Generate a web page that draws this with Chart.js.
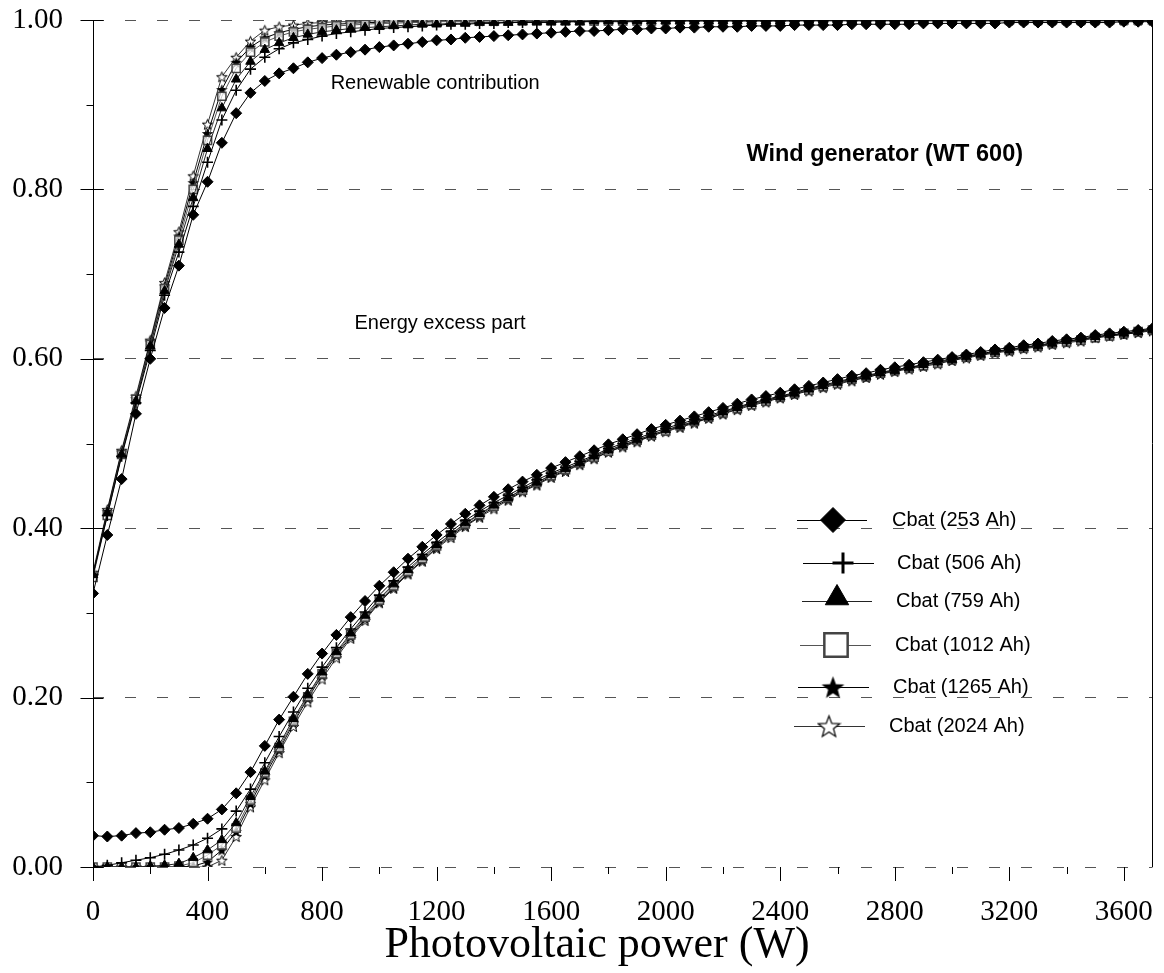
<!DOCTYPE html>
<html><head><meta charset="utf-8">
<script src="https://cdn.jsdelivr.net/npm/chart.js@4.4.1/dist/chart.umd.min.js"></script>
<style>html,body{margin:0;padding:0;background:#fff}#wrap{width:1164px;height:973px;position:relative}</style>
</head><body><div id="wrap"><canvas id="c"></canvas></div>
<script>
// ---------- DATA ----------
const pvPower = [0,50,100,150,200,250,300,350,400,450,500,550,600,650,700,750,800,850,900,950,1000,1050,1100,1150,1200,1250,1300,1350,1400,1450,1500,1550,1600,1650,1700,1750,1800,1850,1900,1950,2000,2050,2100,2150,2200,2250,2300,2350,2400,2450,2500,2550,2600,2650,2700,2750,2800,2850,2900,2950,3000,3050,3100,3150,3200,3250,3300,3350,3400,3450,3500,3550,3600,3650,3700];
const xMajorTicks = [0,400,800,1200,1600,2000,2400,2800,3200,3600];
const xMinorTicks = [200,600,1000,1400,1800,2200,2600,3000,3400];
const yMajorTicks = [0,0.2,0.4,0.6,0.8,1.0];
const yMinorTicks = [0.1,0.3,0.5,0.7,0.9];
const seriesNames = ["Cbat (253 Ah)","Cbat (506 Ah)","Cbat (759 Ah)","Cbat (1012 Ah)","Cbat (1265 Ah)","Cbat (2024 Ah)"];

// Renewable contribution
const renew253 = [0.323,0.392,0.458,0.535,0.600,0.660,0.710,0.770,0.809,0.855,
 0.890,0.914,0.928,0.937,0.943,0.950,0.955,0.959,0.962,0.965,
 0.968,0.970,0.972,0.974,0.976,0.977,0.979,0.980,0.981,0.982,
 0.983,0.984,0.985,0.986,0.987,0.987,0.988,0.989,0.989,0.990,
 0.990,0.991,0.991,0.992,0.992,0.992,0.993,0.993,0.993,0.994,
 0.994,0.994,0.994,0.995,0.995,0.995,0.995,0.995,0.996,0.996,
 0.996,0.996,0.996,0.996,0.997,0.997,0.997,0.997,0.997,0.997,
 0.997,0.997,0.998,0.998,0.998];
const renew506 = [0.345,0.415,0.485,0.548,0.610,0.675,0.726,0.780,0.832,0.882,
 0.917,0.942,0.956,0.966,0.973,0.977,0.981,0.984,0.986,0.988,
 0.990,0.991,0.992,0.993,0.994,0.995,0.995,0.996,0.996,0.997,
 0.997,0.997,0.997,0.998,0.998,0.998,0.998,0.998,0.998,0.999,
 0.999,0.999,0.999,0.999,0.999,0.999,0.999,0.999,0.999,0.999,
 0.999,0.999,0.999,0.999,0.999,0.999,0.999,0.999,0.999,0.999,
 0.999,0.999,0.999,0.999,0.999,0.999,0.999,0.999,0.999,0.999,
 0.999,0.999,0.999,0.999,0.999];
const renew759 = [0.345,0.418,0.487,0.550,0.615,0.680,0.735,0.790,0.848,0.896,
 0.930,0.951,0.965,0.973,0.979,0.983,0.986,0.988,0.990,0.991,
 0.992,0.993,0.994,0.995,0.995,0.996,0.996,0.997,0.997,0.997,
 0.998,0.998,0.998,0.998,0.998,0.999,0.999,0.999,0.999,0.999,
 0.999,0.999,0.999,0.999,0.999,0.999,0.999,0.999,0.999,0.999,
 1.000,1.000,1.000,1.000,1.000,1.000,1.000,1.000,1.000,1.000,
 1.000,1.000,1.000,1.000,1.000,1.000,1.000,1.000,1.000,1.000,
 1.000,1.000,1.000,1.000,1.000];
const renew1012 = [0.342,0.415,0.487,0.552,0.617,0.683,0.740,0.800,0.858,0.910,
 0.943,0.962,0.974,0.981,0.986,0.989,0.991,0.993,0.994,0.995,
 0.996,0.996,0.997,0.997,0.998,0.998,0.998,0.999,0.999,0.999,
 0.999,0.999,0.999,0.999,0.999,0.999,0.999,0.999,0.999,0.999,
 1.000,1.000,1.000,1.000,1.000,1.000,1.000,1.000,1.000,1.000,
 1.000,1.000,1.000,1.000,1.000,1.000,1.000,1.000,1.000,1.000,
 1.000,1.000,1.000,1.000,1.000,1.000,1.000,1.000,1.000,1.000,
 1.000,1.000,1.000,1.000,1.000];
const renew1265 = [0.345,0.420,0.490,0.553,0.620,0.686,0.745,0.808,0.866,0.918,
 0.950,0.968,0.979,0.985,0.989,0.992,0.994,0.995,0.996,0.997,
 0.997,0.998,0.998,0.998,0.999,0.999,0.999,0.999,0.999,1.000,
 1.000,1.000,1.000,1.000,1.000,1.000,1.000,1.000,1.000,1.000,
 1.000,1.000,1.000,1.000,1.000,1.000,1.000,1.000,1.000,1.000,
 1.000,1.000,1.000,1.000,1.000,1.000,1.000,1.000,1.000,1.000,
 1.000,1.000,1.000,1.000,1.000,1.000,1.000,1.000,1.000,1.000,
 1.000,1.000,1.000,1.000,1.000];
const renew2024 = [0.348,0.422,0.492,0.556,0.622,0.690,0.750,0.816,0.877,0.933,
 0.956,0.975,0.988,0.992,0.994,0.996,0.997,0.998,0.998,0.999,
 0.999,0.999,1.000,1.000,1.000,1.000,1.000,1.000,1.000,1.000,
 1.000,1.000,1.000,1.000,1.000,1.000,1.000,1.000,1.000,1.000,
 1.000,1.000,1.000,1.000,1.000,1.000,1.000,1.000,1.000,1.000,
 1.000,1.000,1.000,1.000,1.000,1.000,1.000,1.000,1.000,1.000,
 1.000,1.000,1.000,1.000,1.000,1.000,1.000,1.000,1.000,1.000,
 1.000,1.000,1.000,1.000,1.000];

// Energy excess part
const excess253 = [0.037,0.036,0.037,0.040,0.041,0.044,0.046,0.051,0.057,0.068,
 0.087,0.112,0.143,0.174,0.201,0.228,0.252,0.274,0.295,0.314,
 0.332,0.348,0.364,0.378,0.392,0.405,0.417,0.427,0.437,0.446,
 0.455,0.463,0.471,0.478,0.485,0.492,0.499,0.505,0.511,0.517,
 0.522,0.527,0.532,0.537,0.542,0.547,0.552,0.556,0.560,0.564,
 0.568,0.572,0.576,0.580,0.583,0.587,0.590,0.593,0.596,0.599,
 0.602,0.605,0.608,0.611,0.613,0.616,0.618,0.621,0.623,0.625,
 0.628,0.630,0.632,0.634,0.636];
const excess506 = [0.000,0.002,0.005,0.008,0.011,0.015,0.020,0.026,0.034,0.045,
 0.066,0.092,0.123,0.154,0.183,0.211,0.236,0.259,0.281,0.301,
 0.321,0.338,0.354,0.369,0.383,0.396,0.409,0.420,0.430,0.439,
 0.448,0.457,0.465,0.472,0.479,0.486,0.494,0.500,0.506,0.512,
 0.518,0.523,0.528,0.533,0.538,0.543,0.548,0.552,0.556,0.560,
 0.565,0.569,0.573,0.577,0.580,0.584,0.587,0.590,0.593,0.597,
 0.600,0.603,0.606,0.609,0.611,0.614,0.616,0.619,0.621,0.623,
 0.626,0.628,0.630,0.633,0.635];
const excess759 = [0.000,0.000,0.000,0.000,0.001,0.002,0.004,0.011,0.020,0.032,
 0.052,0.083,0.113,0.144,0.175,0.203,0.230,0.254,0.276,0.297,
 0.317,0.334,0.351,0.366,0.380,0.393,0.406,0.417,0.427,0.436,
 0.446,0.454,0.463,0.470,0.477,0.485,0.492,0.498,0.504,0.510,
 0.516,0.521,0.526,0.531,0.537,0.542,0.547,0.551,0.555,0.559,
 0.564,0.568,0.572,0.576,0.579,0.583,0.586,0.589,0.593,0.596,
 0.599,0.602,0.605,0.608,0.610,0.613,0.615,0.618,0.621,0.623,
 0.626,0.628,0.630,0.632,0.634];
const excess1012 = [0.000,0.000,0.000,0.000,0.000,0.000,0.001,0.005,0.014,0.026,
 0.046,0.079,0.111,0.141,0.172,0.201,0.228,0.252,0.274,0.295,
 0.315,0.332,0.349,0.364,0.379,0.392,0.405,0.416,0.426,0.436,
 0.445,0.454,0.462,0.469,0.477,0.484,0.491,0.498,0.504,0.510,
 0.515,0.521,0.526,0.531,0.536,0.541,0.546,0.550,0.555,0.559,
 0.563,0.567,0.571,0.576,0.579,0.583,0.586,0.589,0.592,0.595,
 0.599,0.602,0.605,0.608,0.610,0.613,0.615,0.618,0.620,0.622,
 0.625,0.627,0.630,0.632,0.634];
const excess1265 = [0.000,0.000,0.000,0.000,0.000,0.000,0.000,0.001,0.006,0.020,
 0.042,0.075,0.108,0.138,0.170,0.199,0.226,0.250,0.272,0.293,
 0.313,0.330,0.347,0.362,0.377,0.391,0.403,0.414,0.425,0.434,
 0.444,0.452,0.461,0.468,0.476,0.483,0.490,0.497,0.503,0.509,
 0.515,0.520,0.525,0.530,0.535,0.541,0.546,0.550,0.554,0.558,
 0.563,0.567,0.571,0.575,0.578,0.582,0.586,0.589,0.592,0.595,
 0.598,0.602,0.605,0.608,0.610,0.613,0.615,0.618,0.620,0.622,
 0.625,0.627,0.629,0.631,0.634];
const excess2024 = [0.000,0.000,0.000,0.000,0.000,0.000,0.000,0.000,0.000,0.008,
 0.036,0.071,0.103,0.135,0.166,0.195,0.222,0.247,0.270,0.291,
 0.312,0.329,0.346,0.361,0.376,0.389,0.402,0.413,0.423,0.433,
 0.443,0.451,0.460,0.467,0.475,0.482,0.490,0.496,0.502,0.509,
 0.514,0.519,0.524,0.530,0.535,0.540,0.545,0.549,0.554,0.558,
 0.562,0.566,0.570,0.574,0.578,0.582,0.585,0.588,0.591,0.594,
 0.598,0.601,0.604,0.607,0.609,0.612,0.614,0.617,0.619,0.621,
 0.625,0.627,0.629,0.631,0.633];

const renewSeries = [renew253,renew506,renew759,renew1012,renew1265,renew2024];
const excessSeries = [excess253,excess506,excess759,excess1012,excess1265,excess2024];

// ---------- STYLES ----------
function starCanvas(size, filled, lw){
  const c=document.createElement('canvas'); c.width=size; c.height=size;
  const g=c.getContext('2d');
  const cx=size/2, cy=size/2+size*0.05, R=size/2-lw, r=R*0.42;
  g.beginPath();
  for(let i=0;i<10;i++){const a=-Math.PI/2+i*Math.PI/5;const rr=(i%2)?r:R;
    if(i===0)g.moveTo(cx+rr*Math.cos(a),cy+rr*Math.sin(a)); else g.lineTo(cx+rr*Math.cos(a),cy+rr*Math.sin(a));}
  g.closePath();
  if(filled){g.fillStyle='#000';g.fill();}
  else{g.fillStyle='#fff';g.fill();g.lineWidth=lw;g.strokeStyle='#000';g.stroke();}
  return c;
}
const starF = starCanvas(13,true,0.5), starH = starCanvas(13,false,1);
const starFL = starCanvas(25,true,0.5), starHL = starCanvas(25,false,1.2);

const styles = [
  {ps:'rectRot', r:5.5, bg:'#000', bc:'#000', bw:1, line:'#000', lps:'rectRot', lr:12.5, lbw:1, lbg:'#000', lbc:'#000'},
  {ps:'cross', r:5.5, bg:'#000', bc:'#000', bw:1.6, line:'#000', lps:'cross', lr:10.5, lbw:3, lbg:'#000', lbc:'#000'},
  {ps:'triangle', r:5.5, bg:'#000', bc:'#000', bw:1, line:'#222', lps:'triangle', lr:13.5, lbw:1, lbg:'#000', lbc:'#000'},
  {ps:'rect', r:5.8, bg:'rgba(255,255,255,0.7)', bc:'#444', bw:1.5, line:'#555', lps:'rect', lr:16.5, lbw:2.5, lbg:'#fff', lbc:'#444'},
  {ps:starF, r:6, bg:'#000', bc:'#000', bw:1, line:'#000', lps:starFL, lr:12, lbw:1, lbg:'#000', lbc:'#000'},
  {ps:starH, r:6, bg:'#fff', bc:'#000', bw:1, line:'#333', lps:starHL, lr:12, lbw:1, lbg:'#fff', lbc:'#000'}
];

const datasets = [];
[renewSeries, excessSeries].forEach(group => {
  group.forEach((arr, s) => {
    const st = styles[s];
    datasets.push({
      label: seriesNames[s],
      data: pvPower.map((w,i)=>({x:w,y:arr[i]})),
      borderColor: st.line, borderWidth: 1, tension: 0,
      pointStyle: st.ps, pointRadius: st.r, pointBackgroundColor: st.bg,
      pointBorderColor: st.bc, pointBorderWidth: st.bw, pointHoverRadius: st.r
    });
  });
});

// ---------- PLUGIN: frame, ticks, annotations, legend, axis title ----------
const decor = {
  id:'decor',
  afterDraw(chart){
    const ctx=chart.ctx, a=chart.chartArea, xs=chart.scales.x, ys=chart.scales.y;
    ctx.save();
    ctx.strokeStyle='#000'; ctx.lineWidth=1; ctx.setLineDash([]);
    const L=Math.round(a.left)+0.5, R=Math.round(a.right)-0.5, T=Math.round(a.top), B=Math.round(a.bottom);
    ctx.beginPath(); ctx.moveTo(L,T); ctx.lineTo(L,B); ctx.moveTo(R,T); ctx.lineTo(R,B); ctx.stroke();
    ctx.beginPath();
    yMajorTicks.forEach(v=>{const y=Math.round(ys.getPixelForValue(v))+0.5; ctx.moveTo(L-13,y); ctx.lineTo(L+10,y);});
    yMinorTicks.forEach(v=>{const y=Math.round(ys.getPixelForValue(v))+0.5; ctx.moveTo(L-7,y); ctx.lineTo(L,y);});
    xMajorTicks.forEach(v=>{const x=Math.round(xs.getPixelForValue(v))+0.5; ctx.moveTo(x,B); ctx.lineTo(x,B+14);});
    xMinorTicks.forEach(v=>{const x=Math.round(xs.getPixelForValue(v))+0.5; ctx.moveTo(x,B); ctx.lineTo(x,B+7);});
    ctx.stroke();
    // axis title
    ctx.fillStyle='#000'; ctx.textAlign='center'; ctx.textBaseline='middle';
    ctx.font='44px "Liberation Serif", "Times New Roman", serif';
    ctx.fillText('Photovoltaic power (W)', 597, 945);
    // annotations
    ctx.textAlign='left';
    ctx.font='20px "Liberation Sans", Arial, sans-serif';
    ctx.fillText('Renewable contribution', xs.getPixelForValue(830), ys.getPixelForValue(0.9245));
    ctx.fillText('Energy excess part', xs.getPixelForValue(913), ys.getPixelForValue(0.642));
    ctx.font='bold 23.5px "Liberation Sans", Arial, sans-serif';
    ctx.fillText('Wind generator (WT 600)', xs.getPixelForValue(2282), ys.getPixelForValue(0.8406));
    // legend
    const rows = [
      {y:520, l0:797, l1:867, m:833, t:892},
      {y:563, l0:803, l1:874, m:843, t:897},
      {y:601, l0:802, l1:872, m:837, t:896},
      {y:645, l0:800, l1:871, m:836, t:895},
      {y:687, l0:798, l1:869, m:833, t:893},
      {y:726, l0:794, l1:865, m:829, t:889}
    ];
    ctx.font='20px "Liberation Sans", Arial, sans-serif';
    rows.forEach((r,i)=>{
      const st=styles[i];
      ctx.strokeStyle=st.line; ctx.lineWidth=1;
      ctx.beginPath(); ctx.moveTo(r.l0, r.y+0.5); ctx.lineTo(r.l1, r.y+0.5); ctx.stroke();
      ctx.fillStyle=st.lbg; ctx.strokeStyle=st.lbc; ctx.lineWidth=st.lbw;
      const yy = (st.lps==='triangle') ? r.y-3 : r.y;
      Chart.helpers.drawPoint(ctx,{pointStyle:st.lps, radius:st.lr, rotation:0, borderWidth:st.lbw}, r.m, yy);
      ctx.fillStyle='#000';
      ctx.fillText(seriesNames[i], r.t, r.y);
    });
    ctx.restore();
  }
};

new Chart(document.getElementById('c'), {
  type:'line',
  data:{datasets},
  options:{
    responsive:true, maintainAspectRatio:false, animation:false,
    layout:{padding:{top:20,right:11.5,left:0,bottom:0}},
    plugins:{legend:{display:false}, tooltip:{enabled:false}},
    scales:{
      x:{type:'linear', min:0, max:3700,
         afterBuildTicks(s){ s.ticks = xMajorTicks.map(v=>({value:v})); },
         afterFit(s){ s.height=106; s.paddingLeft=0; s.paddingRight=0; },
         ticks:{maxRotation:0, minRotation:0, autoSkip:false, padding:28, color:'#000',
                callback:v=>String(v),
                font:{family:'"Liberation Serif", "Times New Roman", serif', size:29}},
         grid:{display:false, drawTicks:false}, border:{display:false},
         title:{display:false}},
      y:{type:'linear', min:0, max:1,
         afterBuildTicks(s){ s.ticks = yMajorTicks.map(v=>({value:v})); },
         afterFit(s){ s.width=93; s.paddingTop=0; s.paddingBottom=0; },
         ticks:{padding:30, color:'#000', callback:v=>Number(v).toFixed(2),
                font:{family:'"Liberation Serif", "Times New Roman", serif', size:29}},
         grid:{color:'#555', lineWidth:1, drawTicks:false},
         border:{display:false, dash:[11,21]}}
    }
  },
  plugins:[decor]
});
</script>
</body></html>
